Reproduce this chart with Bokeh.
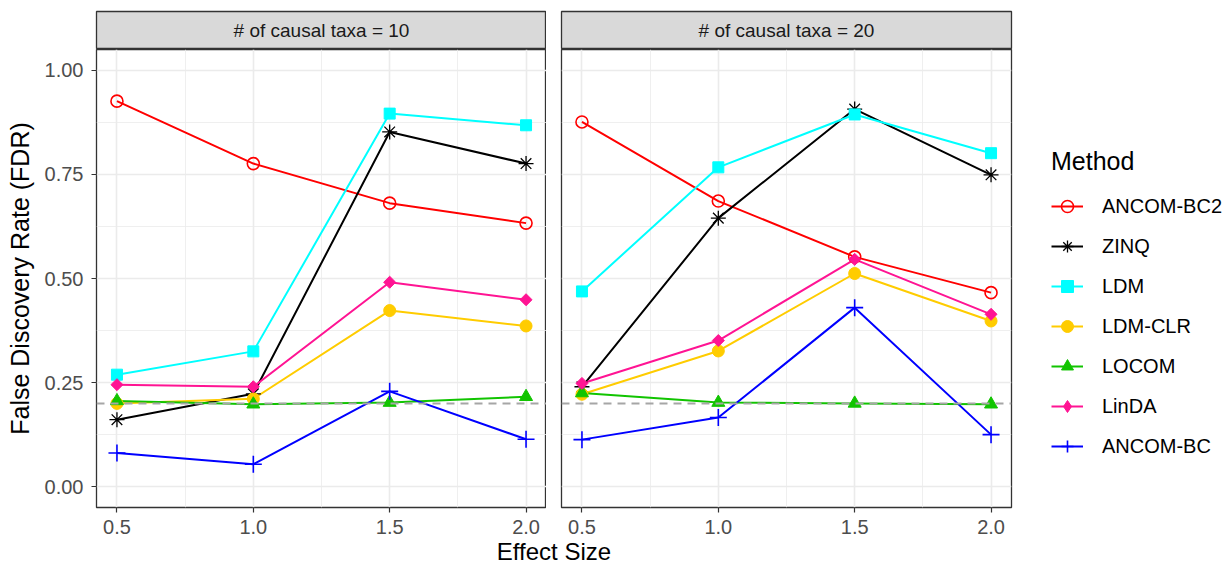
import math
from bokeh.plotting import figure
from bokeh.layouts import row, column
from bokeh.models import (ColumnDataSource, Legend, LegendItem, FixedTicker,
                          Span, NumeralTickFormatter, Range1d)
from bokeh.core.properties import value
from bokeh.embed import file_html
from bokeh.resources import INLINE

# ---------------- data ----------------
effect_size = [0.5, 1.0, 1.5, 2.0]
methods = ["ANCOM-BC2", "ZINQ", "LDM", "LDM-CLR", "LOCOM", "LinDA", "ANCOM-BC"]
facet_labels = ["# of causal taxa = 10", "# of causal taxa = 20"]
x_label = "Effect Size"
y_label = "False Discovery Rate (FDR)"
legend_title = "Method"
x_ticks = [0.5, 1.0, 1.5, 2.0]
x_minor = [0.75, 1.25, 1.75]
y_ticks = [0.0, 0.25, 0.5, 0.75, 1.0]
y_minor = [0.125, 0.375, 0.625, 0.875]
fdr_threshold = 0.2

# causal taxa = 10
ancombc2_t10 = [0.926, 0.776, 0.681, 0.633]
zinq_t10 = [0.161, 0.223, 0.852, 0.776]
ldm_t10 = [0.269, 0.325, 0.896, 0.868]
ldmclr_t10 = [0.200, 0.211, 0.423, 0.386]
locom_t10 = [0.206, 0.198, 0.202, 0.216]
linda_t10 = [0.245, 0.240, 0.491, 0.449]
ancombc_t10 = [0.081, 0.054, 0.229, 0.114]

# causal taxa = 20
ancombc2_t20 = [0.876, 0.686, 0.552, 0.466]
zinq_t20 = [0.240, 0.645, 0.907, 0.749]
ldm_t20 = [0.469, 0.767, 0.894, 0.801]
ldmclr_t20 = [0.222, 0.326, 0.512, 0.398]
locom_t20 = [0.225, 0.202, 0.200, 0.198]
linda_t20 = [0.248, 0.351, 0.546, 0.414]
ancombc_t20 = [0.113, 0.166, 0.430, 0.125]

series_t10 = [ancombc2_t10, zinq_t10, ldm_t10, ldmclr_t10, locom_t10, linda_t10, ancombc_t10]
series_t20 = [ancombc2_t20, zinq_t20, ldm_t20, ldmclr_t20, locom_t20, linda_t20, ancombc_t20]

# ---------------- styles ----------------
FONT = "Liberation Sans"
colors = ["#FF0000", "#000000", "#00FFFF", "#FFCC00", "#11C400", "#FF1493", "#0000FF"]
markers = ["circle", "asterisk", "square", "circle", "triangle", "square", "cross"]
legend_markers = ["circle", "asterisk", "square", "circle", "triangle", "diamond", "cross"]
msizes = [12, 15, 11, 12, 13, 8.5, 17]
legend_sizes = [12, 15, 11, 12, 13, 13, 17]
angles = [0, 0, 0, 0, 0, math.pi / 4, 0]
mwidths = [1.6, 1.3, 1.0, 1.0, 1.0, 1.0, 1.6]
filled = [False, False, True, True, True, True, False]

FRAME_W, FRAME_H, STRIP_H = 450, 458, 38
X_RANGE = (0.425, 2.075)
Y_RANGE = (-0.05, 1.05)


def strip(label, left, right):
    s = figure(frame_width=FRAME_W, frame_height=STRIP_H, x_range=(0, 1), y_range=(0, 1),
               x_axis_type=None, y_axis_type=None, toolbar_location=None,
               output_backend="svg", min_border_left=left, min_border_right=right,
               min_border_top=11, min_border_bottom=0)
    s.xgrid.visible = False
    s.ygrid.visible = False
    s.background_fill_color = "#D9D9D9"
    s.border_fill_color = "white"
    s.outline_line_color = "#333333"
    s.outline_line_width = 1.3
    s.text(x=[0.5], y=[0.5], text=[label], text_align="center", text_baseline="middle",
           text_font_size="19px", text_color="#1A1A1A", text_font=value(FONT))
    return s


def panel(series, left, right, show_y):
    p = figure(frame_width=FRAME_W, frame_height=FRAME_H,
               x_range=Range1d(*X_RANGE), y_range=Range1d(*Y_RANGE),
               toolbar_location=None, output_backend="svg",
               min_border_left=left, min_border_right=right,
               min_border_top=0, min_border_bottom=29)
    p.background_fill_color = "white"
    p.outline_line_color = "#333333"
    p.outline_line_width = 1.3

    p.xaxis.ticker = FixedTicker(ticks=x_ticks, minor_ticks=x_minor)
    p.yaxis.ticker = FixedTicker(ticks=y_ticks, minor_ticks=y_minor)
    p.xgrid.ticker = p.xaxis.ticker
    p.ygrid.ticker = p.yaxis.ticker
    p.xaxis.formatter = NumeralTickFormatter(format="0.0")
    p.yaxis.formatter = NumeralTickFormatter(format="0.00")
    for g in (p.xgrid, p.ygrid):
        g.grid_line_color = "#EBEBEB"
        g.grid_line_width = 1.6
        g.minor_grid_line_color = "#EBEBEB"
        g.minor_grid_line_width = 0.8
    for ax in (p.xaxis, p.yaxis):
        ax.axis_line_color = None
        ax.major_tick_line_color = "#333333"
        ax.major_tick_line_width = 1.2
        ax.major_tick_out = 5
        ax.major_tick_in = 0
        ax.minor_tick_line_color = None
        ax.major_label_text_font_size = "20px"
        ax.major_label_text_color = "#4D4D4D"
        ax.major_label_text_font = FONT
    p.xaxis.major_label_standoff = 7
    p.yaxis.major_label_standoff = 8
    if show_y:
        p.yaxis.axis_label = y_label
        p.yaxis.axis_label_text_font_size = "25px"
        p.yaxis.axis_label_text_font_style = "normal"
        p.yaxis.axis_label_text_color = "black"
        p.yaxis.axis_label_text_font = FONT
        p.yaxis.axis_label_standoff = 8
    else:
        p.yaxis.visible = False

    line_rs, pt_rs = [], []
    for vals, c in zip(series, colors):
        src = ColumnDataSource(dict(x=effect_size, y=vals))
        line_rs.append(p.line("x", "y", source=src, line_color=c, line_width=2))
    for vals, c, m, sz, a, w, f in zip(series, colors, markers, msizes, angles, mwidths, filled):
        src = ColumnDataSource(dict(x=effect_size, y=vals))
        pt_rs.append(p.scatter("x", "y", source=src, marker=m, size=sz, angle=a,
                               line_color=c, fill_color=c if f else None,
                               line_width=w))
    p.add_layout(Span(location=fdr_threshold, dimension="width", line_color="#A6A6A6",
                      line_width=2, line_dash="8 6"))
    return p, line_rs, pt_rs


s1 = strip(facet_labels[0], 96, 0)
s2 = strip(facet_labels[1], 15, 215)
p1, _, _ = panel(series_t10, 96, 0, True)
p2, l2, m2 = panel(series_t20, 15, 215, False)

# legend key glyphs (a single NaN point: nothing drawn in the panel, only styles the key)
nan = float("nan")
key_rs = []
for c, m, sz, w, f in zip(colors, legend_markers, legend_sizes, mwidths, filled):
    key_rs.append(p2.scatter(x=[nan], y=[nan], marker=m, size=sz, line_color=c,
                             fill_color=c if f else None, line_width=w))

items = [LegendItem(label=name, renderers=[lr, kr]) for name, lr, kr in zip(methods, l2, key_rs)]
legend = Legend(items=items, title=legend_title, location=(40, 46),
                orientation="vertical", margin=0, padding=0,
                glyph_width=32, glyph_height=30, label_height=20, spacing=10,
                label_standoff=19, title_standoff=15,
                label_text_font_size="20px", label_text_font=FONT, label_text_color="black",
                title_text_font_size="25px", title_text_font=FONT,
                title_text_font_style="normal", title_text_color="black",
                background_fill_alpha=0, border_line_color=None)
p2.add_layout(legend, "right")

xl = figure(frame_width=915, frame_height=28, x_range=(0, 1), y_range=(0, 1),
            x_axis_type=None, y_axis_type=None, toolbar_location=None,
            output_backend="svg", min_border_left=96, min_border_right=0,
            min_border_top=0, min_border_bottom=0)
xl.xgrid.visible = False
xl.ygrid.visible = False
xl.outline_line_color = None
xl.text(x=[0.5], y=[0.48], text=[x_label], text_align="center", text_baseline="middle",
        text_font_size="24px", text_color="black", text_font=value(FONT))

layout = column(row(column(s1, p1), column(s2, p2)), xl)

with open("out.html", "w") as f:
    f.write(file_html(layout, INLINE))
